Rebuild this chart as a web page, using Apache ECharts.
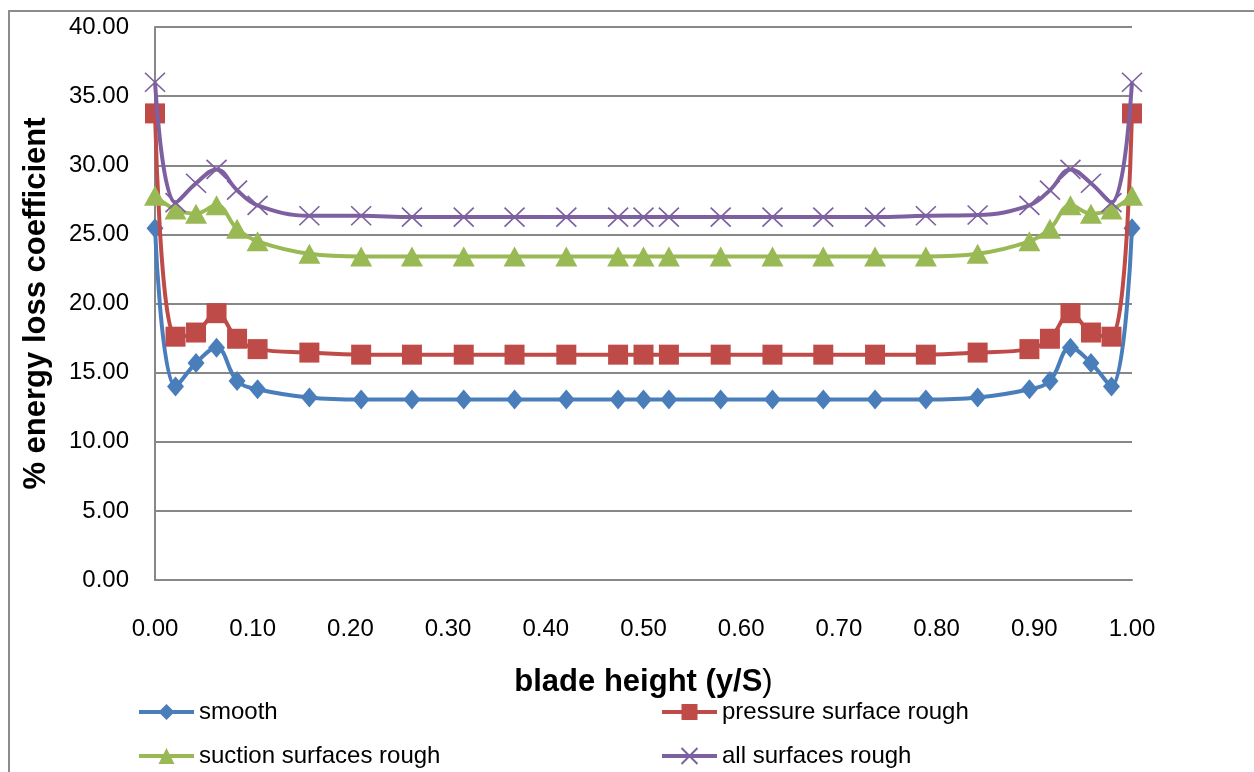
<!DOCTYPE html>
<html>
<head>
<meta charset="utf-8">
<script src="https://cdn.jsdelivr.net/npm/echarts@6/dist/echarts.min.js"></script>
<style>
  html, body { margin: 0; padding: 0; background: #ffffff; }
  #chart { width: 1254px; height: 772px; }
</style>
</head>
<body>
<div id="chart"></div>
<script>
// Spanwise positions along the blade (y/S)
const bladeHeight = [0, 0.021, 0.042, 0.063, 0.084, 0.105, 0.158, 0.211, 0.263, 0.316, 0.368, 0.421, 0.474, 0.5,
  0.526, 0.579, 0.632, 0.684, 0.737, 0.789, 0.842, 0.895, 0.916, 0.937, 0.958, 0.979, 1.0];

// % energy loss coefficient for each surface condition
const smooth = [25.45, 14.0, 15.7, 16.8, 14.4, 13.8, 13.2, 13.05, 13.05, 13.05, 13.05, 13.05, 13.05, 13.05,
  13.05, 13.05, 13.05, 13.05, 13.05, 13.05, 13.2, 13.8, 14.4, 16.8, 15.7, 14.0, 25.45];
const pressureRough = [33.75, 17.6, 17.9, 19.3, 17.45, 16.7, 16.45, 16.3, 16.3, 16.3, 16.3, 16.3, 16.3, 16.3,
  16.3, 16.3, 16.3, 16.3, 16.3, 16.3, 16.45, 16.7, 17.45, 19.3, 17.9, 17.6, 33.75];
const suctionRough = [27.8, 26.8, 26.5, 27.1, 25.4, 24.5, 23.6, 23.4, 23.4, 23.4, 23.4, 23.4, 23.4, 23.4,
  23.4, 23.4, 23.4, 23.4, 23.4, 23.4, 23.6, 24.5, 25.4, 27.1, 26.5, 26.8, 27.8];
const allRough = [36.0, 27.3, 28.7, 29.7, 28.2, 27.1, 26.35, 26.35, 26.25, 26.25, 26.25, 26.25, 26.25, 26.25,
  26.25, 26.25, 26.25, 26.25, 26.25, 26.35, 26.4, 27.1, 28.2, 29.7, 28.7, 27.3, 36.0];

const seriesNames = ['smooth', 'pressure surface rough', 'suction surfaces rough', 'all surfaces rough'];
const seriesValues = [smooth, pressureRough, suctionRough, allRough];
const colors = ['#4A7EBB', '#BE4B48', '#98B954', '#7D60A0'];

const FONT = '"Liberation Sans", Arial, sans-serif';
const crossPath = 'path://M0,0L20,20M20,0L0,20';

const symbols = [
  { symbol: 'diamond', symbolSize: [17, 20] },
  { symbol: 'rect', symbolSize: [20, 20] },
  { symbol: 'triangle', symbolSize: [22, 20] },
  { symbol: crossPath, symbolSize: [20, 19] }
];

const series = seriesNames.map((name, i) => ({
  name: name,
  type: 'line',
  smooth: 0.4,
  data: bladeHeight.map((x, k) => [x, seriesValues[i][k]]),
  symbol: symbols[i].symbol,
  symbolSize: symbols[i].symbolSize,
  showAllSymbol: true,
  lineStyle: { color: colors[i], width: 4 },
  itemStyle: i === 3
    ? { color: colors[i], borderColor: colors[i], borderWidth: 1.6 }
    : { color: colors[i], borderWidth: 0 },
  emphasis: { disabled: true },
  z: 2 + i
}));

const legendPos = [
  { left: 137, top: 700 },
  { left: 660, top: 700 },
  { left: 137, top: 744 },
  { left: 660, top: 744 }
];

const legends = seriesNames.map((name, i) => ({
  data: [name],
  left: legendPos[i].left,
  top: legendPos[i].top,
  padding: 0,
  itemWidth: 55,
  itemHeight: 20,
  itemGap: 5,
  selectedMode: false,
  lineStyle: { width: 4 },
  textStyle: { fontFamily: FONT, fontSize: 24, color: '#000000' }
}));

const chart = echarts.init(document.getElementById('chart'), null, { renderer: 'canvas' });

chart.setOption({
  animation: false,
  backgroundColor: '#ffffff',
  graphic: [{
    type: 'rect',
    shape: { x: 9, y: 11, width: 1400, height: 900 },
    style: { fill: 'none', stroke: '#8c8c8c', lineWidth: 2 },
    silent: true
  }],
  grid: { left: 155, right: 122, top: 27, bottom: 192 },
  legend: legends,
  xAxis: {
    type: 'value',
    min: 0,
    max: 1,
    interval: 0.1,
    name: '{b|blade height (y/S}{n|)}',
    nameLocation: 'middle',
    nameGap: 87,
    nameTextStyle: {
      rich: {
        b: { fontFamily: FONT, fontSize: 31, fontWeight: 'bold', color: '#000000' },
        n: { fontFamily: FONT, fontSize: 31, fontWeight: 'normal', color: '#000000' }
      }
    },
    axisLine: { show: true, lineStyle: { color: '#878787', width: 2 } },
    axisTick: { show: false },
    splitLine: { show: false },
    axisLabel: {
      margin: 37,
      fontFamily: FONT,
      fontSize: 24,
      color: '#000000',
      formatter: v => v.toFixed(2)
    }
  },
  yAxis: {
    type: 'value',
    min: 0,
    max: 40,
    interval: 5,
    name: '% energy loss coefficient',
    nameLocation: 'middle',
    nameGap: 103,
    nameTextStyle: { fontFamily: FONT, fontSize: 31, fontWeight: 'bold', color: '#000000' },
    axisLine: { show: true, lineStyle: { color: '#878787', width: 2 } },
    axisTick: { show: false },
    splitLine: { show: true, lineStyle: { color: '#878787', width: 2 } },
    axisLabel: {
      margin: 26,
      fontFamily: FONT,
      fontSize: 24,
      color: '#000000',
      formatter: v => v.toFixed(2)
    }
  },
  series: series
});
</script>
</body>
</html>
